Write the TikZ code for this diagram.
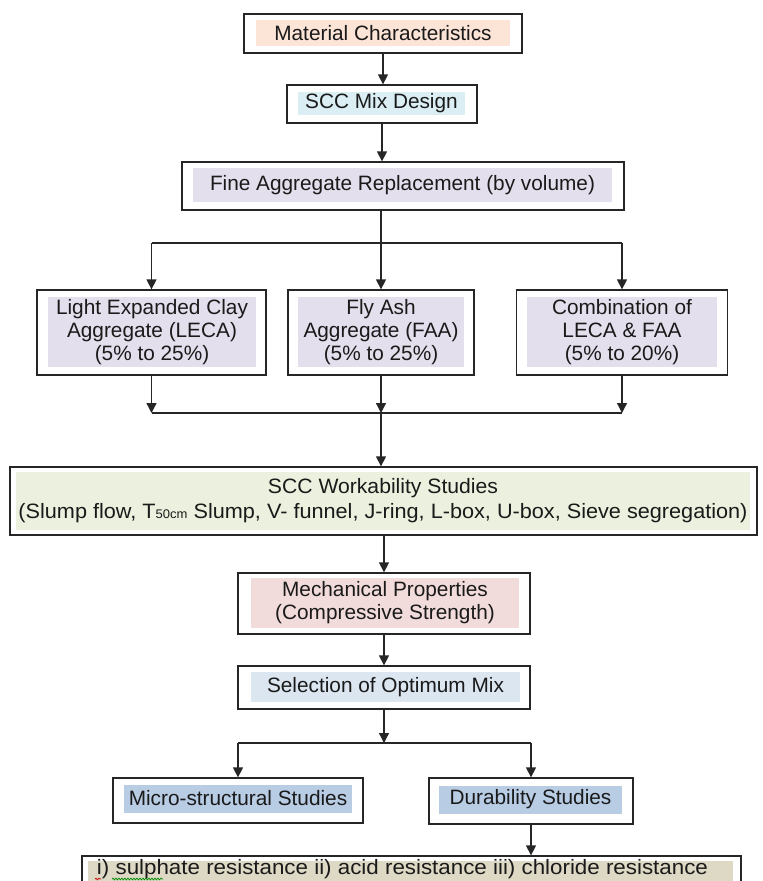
\documentclass[tikz,border=0pt]{standalone}
\usepackage{fontspec}
\setmainfont{Liberation Sans}
\usetikzlibrary{arrows.meta,decorations.pathmorphing}
\definecolor{peach}{HTML}{FCE4D6}
\definecolor{mixblue}{HTML}{DAEEF3}
\definecolor{lavender}{HTML}{E4DFEC}
\definecolor{lightgreen}{HTML}{EBF1DE}
\definecolor{pink}{HTML}{F2DCDB}
\definecolor{selblue}{HTML}{DCE6F1}
\definecolor{midblue}{HTML}{B8CCE4}
\definecolor{tan}{HTML}{DDD9C4}
\definecolor{boxline}{HTML}{262626}
\definecolor{txt}{HTML}{1A1A1A}
\begin{document}
\begin{tikzpicture}[x=1pt,y=-1pt,
  outer/.style={draw=boxline, line width=1.3pt, fill=white, inner sep=0pt},
  lab/.style={inner sep=0pt, font=\fontsize{20.8}{23}\selectfont, text=txt, align=center},
  arr/.style={draw=boxline, line width=1.3pt, -{Triangle[width=10pt,length=10pt]}},
  conn/.style={draw=boxline, line width=1.3pt}]
\clip (0,0) rectangle (763,881);
\fill[white] (0,0) rectangle (763,881);

% boxes
\node[outer, minimum width=278pt, minimum height=39pt] (mat) at (383,33.5) {};
\node[lab, fill=peach, minimum width=254pt, minimum height=26pt] (matt) at (383,33) {Material Characteristics};

\node[outer, minimum width=190pt, minimum height=38pt] (mix) at (382,104) {};
\node[lab, fill=mixblue, minimum width=167pt, minimum height=23pt] (mixt) at (381.5,103.5) {SCC Mix Design};

\node[outer, minimum width=442pt, minimum height=48pt] (fine) at (403,186) {};
\node[lab, fill=lavender, minimum width=419pt, minimum height=34pt] (finet) at (402.5,185) {Fine Aggregate Replacement (by volume)};

\node[outer, minimum width=229pt, minimum height=85pt] (leca) at (151.5,332.5) {};
\node[lab, fill=lavender, minimum width=208pt, minimum height=70pt] (lecat) at (152,332) {Light Expanded Clay\\Aggregate (LECA)\\(5\% to 25\%)};

\node[outer, minimum width=186pt, minimum height=85pt] (faa) at (381,332.5) {};
\node[lab, fill=lavender, minimum width=166pt, minimum height=70pt] (faat) at (381,332) {Fly Ash\\Aggregate (FAA)\\(5\% to 25\%)};

\node[outer, minimum width=211pt, minimum height=85pt] (comb) at (622,332.5) {};
\node[lab, fill=lavender, minimum width=190pt, minimum height=70pt] (combt) at (622,332) {Combination of\\LECA \& FAA\\(5\% to 20\%)};

\node[outer, minimum width=747pt, minimum height=68pt] (work) at (383.5,501) {};
\node[lab, fill=lightgreen, minimum width=734pt, minimum height=58pt] (workt) at (383,501)
  {\resizebox{230pt}{\height}{SCC Workability Studies}\\[2pt]
   \resizebox{729pt}{\height}{(Slump flow, T{\fontsize{12.5}{12.5}\selectfont 50cm} Slump, V- funnel, J-ring, L-box, U-box, Sieve segregation)}};

\node[outer, minimum width=292pt, minimum height=61pt] (mech) at (384,603.5) {};
\node[lab, fill=pink, minimum width=268pt, minimum height=50pt] (mecht) at (385,603) {Mechanical Properties\\(Compressive Strength)};

\node[outer, minimum width=292pt, minimum height=43pt] (sel) at (384,687.5) {};
\node[lab, fill=selblue, minimum width=269pt, minimum height=30pt] (selt) at (385.5,687) {Selection of Optimum Mix};

\node[outer, minimum width=250pt, minimum height=45pt] (micro) at (238,800.5) {};
\node[lab, fill=midblue, minimum width=228pt, minimum height=28pt] (microt) at (238,798.5) {Micro-structural Studies};

\node[outer, minimum width=204pt, minimum height=46pt] (dur) at (531,801) {};
\node[lab, fill=midblue, minimum width=183pt, minimum height=28pt] (durt) at (530.5,799.5) {Durability Studies};

\node[outer, minimum width=659pt, minimum height=54pt] (res) at (411.5,883) {};
\node[lab, fill=tan, minimum width=645pt, minimum height=44pt] (resf) at (410.5,883) {};
\node[lab, anchor=base] (rest) at (402.5,874) {\resizebox{611pt}{\height}{i) sulphate resistance ii) acid resistance iii) chloride resistance}};

% spell-check marks
\draw[green!55!black, line width=0.7pt, decorate, decoration={snake, amplitude=0.9pt, segment length=3pt}] (112,879) -- (163,879);
\draw[red!80!black, line width=0.7pt, decorate, decoration={snake, amplitude=0.9pt, segment length=3pt}] (95,879) -- (101,879);

% connectors
\draw[arr] (mat.south) -- (mat.south |- mix.north);
\draw[arr] (mix.south) -- (mix.south |- fine.north);

\coordinate (b1) at (381,243);
\draw[arr] (fine.south -| faa) -- (faa.north);
\draw[conn] (b1 -| leca) -- (b1 -| comb);
\draw[arr] (b1 -| leca) -- (leca.north);
\draw[arr] (b1 -| comb) -- (comb.north);

\coordinate (b2) at (381,413);
\draw[arr] (leca.south) -- (leca.south |- b2);
\draw[arr] (faa.south) -- (faa.south |- b2);
\draw[arr] (comb.south) -- (comb.south |- b2);
\draw[conn] (b2 -| leca) -- (b2 -| comb);
\draw[arr] (b2) -- (b2 |- work.north);

\draw[arr] (work.south -| mech) -- (mech.north);
\draw[arr] (mech.south) -- (sel.north);

\coordinate (b3) at (384,743);
\draw[arr] (sel.south) -- (sel.south |- b3);
\draw[conn] (b3 -| micro) -- (b3 -| dur);
\draw[arr] (b3 -| micro) -- (micro.north);
\draw[arr] (b3 -| dur) -- (dur.north);
\draw[arr] (dur.south) -- (dur.south |- res.north);
\end{tikzpicture}
\end{document}
